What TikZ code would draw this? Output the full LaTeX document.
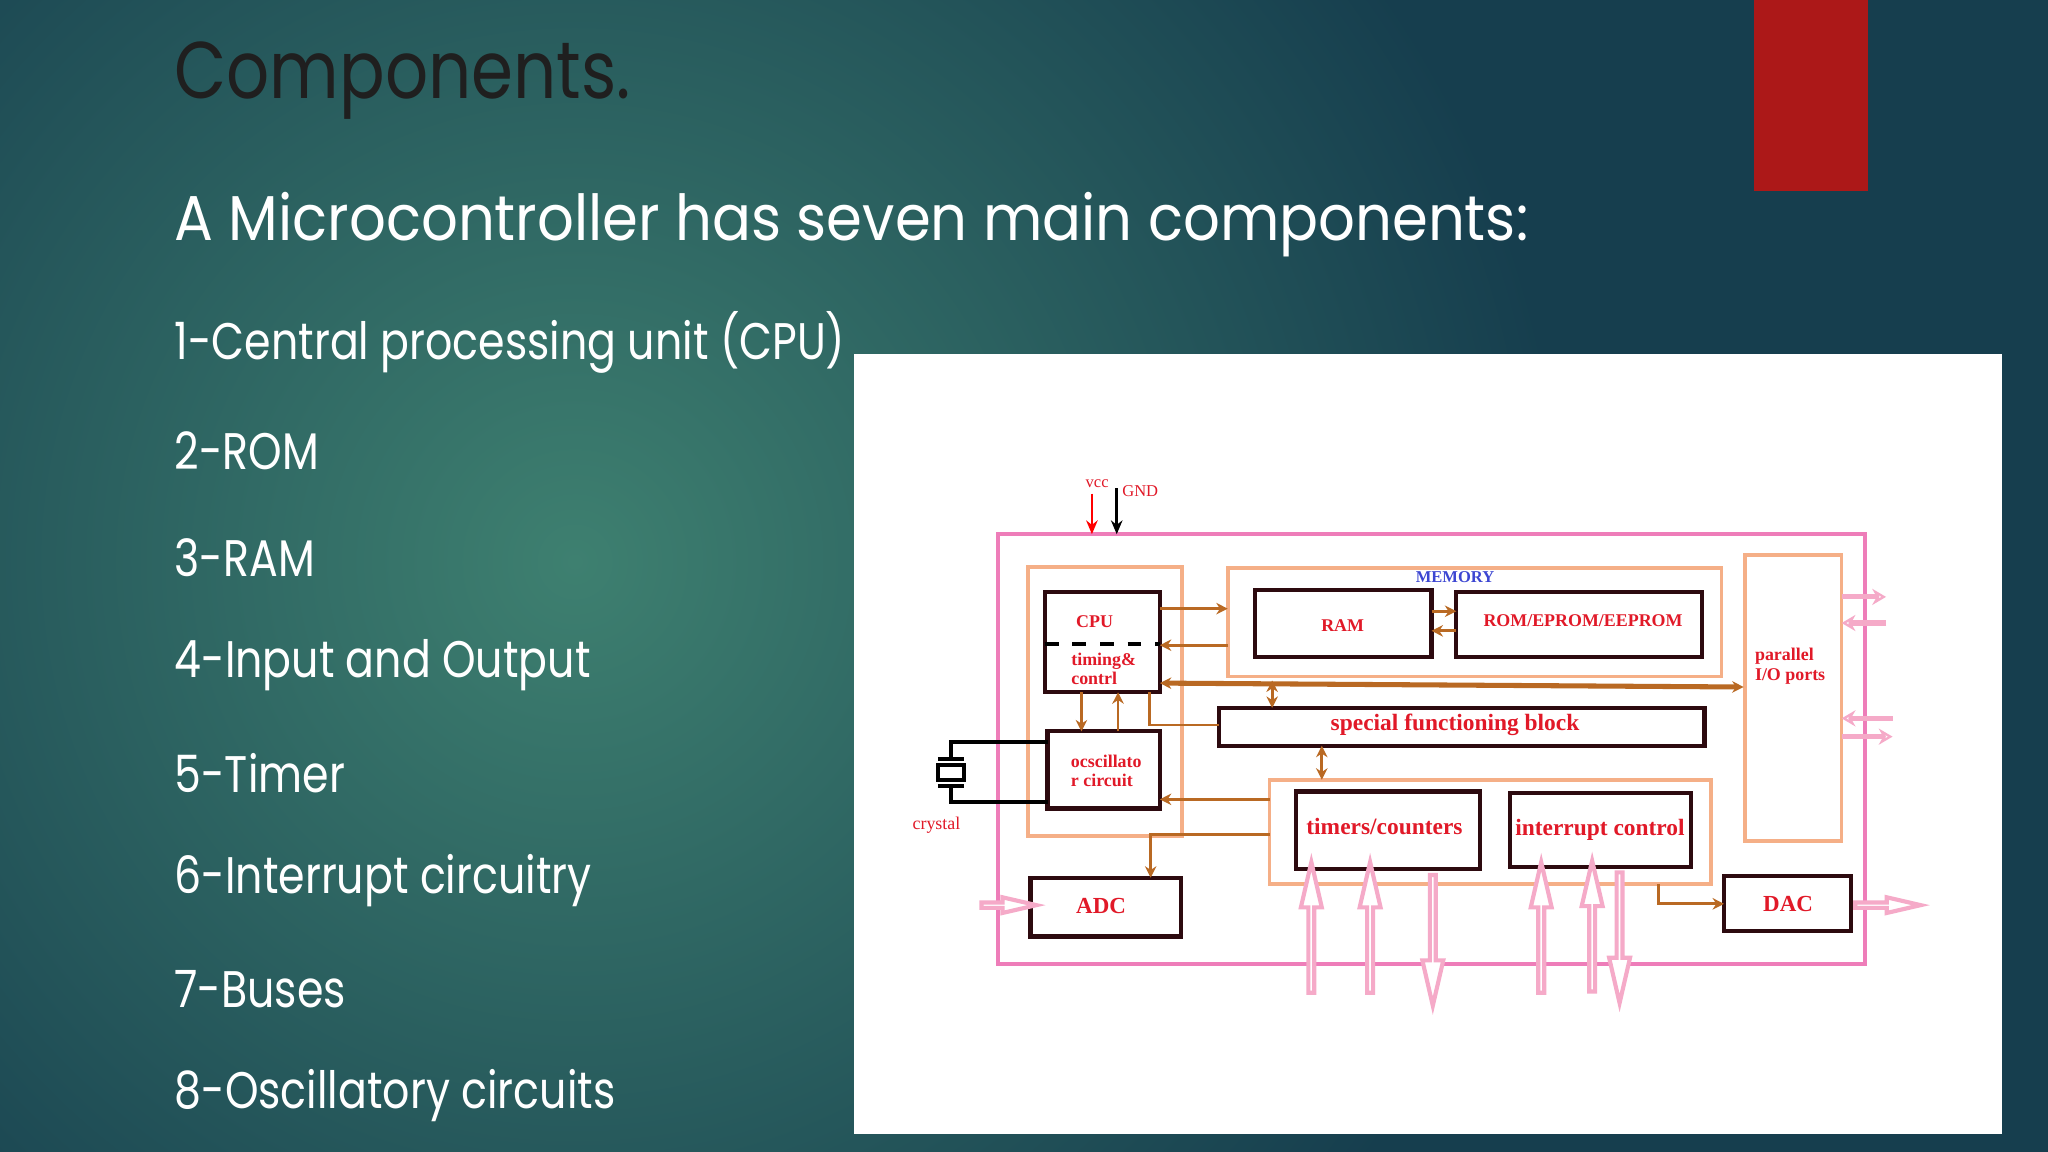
\documentclass[tikz,border=0pt]{standalone}
\usepackage{fontspec}
\setmainfont{Poppins}
\newfontfamily\titlef[FakeStretch=0.84]{Poppins}
\newfontfamily\subf[FakeStretch=0.91]{Poppins}
\newfontfamily\listf[FakeStretch=0.83]{Poppins}
\newfontfamily\dserif{Liberation Serif}
\usetikzlibrary{shapes.arrows,arrows.meta}
\definecolor{bgout}{RGB}{22,62,78}
\definecolor{bgin}{RGB}{62,128,112}
\definecolor{slidered}{RGB}{172,24,24}
\definecolor{dred}{RGB}{225,25,40}
\definecolor{brn}{RGB}{185,105,35}
\definecolor{org}{RGB}{245,175,135}
\definecolor{pnk}{RGB}{238,125,185}
\definecolor{hpnk}{RGB}{245,170,200}
\definecolor{dbox}{RGB}{45,10,15}
\definecolor{memblue}{RGB}{60,70,210}
\tikzset{
  listtxt/.style={anchor=west,text=white,font=\listf\fontsize{11.2}{12}\selectfont,inner sep=0},
  blk/.style={draw=dbox,line width=0.9pt,inner sep=0},
  grp/.style={draw=org,line width=0.8pt,inner sep=0},
  lbl/.style={text=dred,font=\dserif\bfseries\fontsize{3.9}{4.2}\selectfont,align=center,inner sep=0},
  barr/.style={draw=brn,line width=0.6pt,-{Stealth[length=2.5pt,width=2.5pt]}},
  bdarr/.style={draw=brn,line width=0.6pt,{Stealth[length=2.5pt,width=2.5pt]}-{Stealth[length=2.5pt,width=2.5pt]}},
  harrow/.style={single arrow,draw=hpnk,line width=0.9pt,fill=white,minimum width=0.16cm,single arrow head extend=0.04cm,single arrow tip angle=26,inner sep=0,minimum height=1cm},
  parr/.style={draw=hpnk,line width=1.1pt,-{Stealth[length=3pt,width=3.5pt,open]}}
}
\begin{document}
\begin{tikzpicture}[x=0.01cm,y=-0.01cm]
\useasboundingbox (0,0) rectangle (1568,882);
\fill[bgout] (0,0) rectangle (1568,882);
\begin{scope}
\clip (0,0) rectangle (1568,882);
\shade[inner color=bgin,outer color=bgout] (440,430) circle (760);
\end{scope}
\fill[slidered] (1343,0) rectangle (1430,146);
\node[anchor=west,inner sep=0,text=black!88,font=\titlef\fontsize{17.5}{18}\selectfont] (title) at (133,62) {Components.};
\node[anchor=west,inner sep=0,text=white,font=\subf\fontsize{13.8}{14}\selectfont] (sub) at (133,172) {A Microcontroller has seven main components:};
\node[listtxt] (l1) at (133,262) {1-Central processing unit (CPU)};
\node[listtxt] (l2) at (133,345) {2-ROM};
\node[listtxt] (l3) at (133,427) {3-RAM};
\node[listtxt] (l4) at (133,509) {4-Input and Output};
\node[listtxt] (l5) at (133,592) {5-Timer};
\node[listtxt] (l6) at (133,674) {6-Interrupt circuitry};
\node[listtxt] (l7) at (133,757) {7-Buses};
\node[listtxt] (l8) at (133,839) {8-Oscillatory circuits};
% white panel
\fill[white] (654,271) rectangle (1533,868);
% outer chip
\draw[pnk,line width=0.9pt] (764,409) rectangle (1428,738);
\coordinate (chiptopA) at (836,409);
\coordinate (chiptopB) at (855,409);
\coordinate (vccs) at (836,378);
\coordinate (gnds) at (855,374);
\node[text=dred,font=\dserif\fontsize{3.6}{4}\selectfont,inner sep=0] (vcc) at (840,370) {vcc};
\node[text=dred,font=\dserif\fontsize{3.6}{4}\selectfont,inner sep=0] (gnd) at (873,376) {GND};
\draw[red,line width=0.6pt,-{Stealth[length=3pt,width=2.5pt]}] (vccs) -- (chiptopA);
\draw[black,line width=0.6pt,-{Stealth[length=3pt,width=2.5pt]}] (gnds) -- (chiptopB);
% groups
\draw[grp] (787,434) rectangle (905,640);
\draw[grp] (940,435) rectangle (1318,518);
\draw[grp] (1336,425) rectangle (1410,644);
\draw[grp] (972,597) rectangle (1310,677);
\node[text=memblue,font=\dserif\bfseries\fontsize{3.6}{4}\selectfont,inner sep=0] (memlbl) at (1114,442) {MEMORY};
% blocks
\draw[blk] (800,453) rectangle (888,530);
\draw[black,line width=0.9pt,dashed] (800,493) -- (888,493);
\node[lbl] (cpu) at (838,476) {CPU};
\node[lbl,align=left] (tc) at (845,512) {timing\&\\contrl};
\draw[blk] (802,560) rectangle (888,619);
\node[lbl,align=left] (osc) at (847,590) {ocscillato\\r circuit};
\draw[blk] (961,452) rectangle (1096,503);
\node[lbl] (ram) at (1028,479) {RAM};
\draw[blk] (1115,453) rectangle (1303,503);
\node[lbl] (rom) at (1212,475) {ROM/EPROM/EEPROM};
\node[lbl,align=left,anchor=west] (pio) at (1343,510) {parallel\\I/O ports};
\draw[blk] (933,542) rectangle (1305,571);
\node[lbl,font=\dserif\bfseries\fontsize{5.1}{6}\selectfont] (sfb) at (1114,555) {special functioning block};
\draw[blk] (992,606) rectangle (1133,665);
\node[lbl,font=\dserif\bfseries\fontsize{5.1}{6}\selectfont] (tim) at (1060,633) {timers/counters};
\draw[blk] (1156,607) rectangle (1295,664);
\node[lbl,font=\dserif\bfseries\fontsize{5.1}{6}\selectfont] (intc) at (1225,635) {interrupt control};
\draw[blk] (789,672) rectangle (904,717);
\node[lbl,font=\dserif\bfseries\fontsize{5}{6}\selectfont] (adc) at (843,694) {ADC};
\draw[blk] (1320,671) rectangle (1417,713);
\node[lbl,font=\dserif\bfseries\fontsize{5}{6}\selectfont] (dac) at (1369,692) {DAC};
% crystal
\draw[black,line width=0.9pt] (802,568) -- (728,568) -- (728,581) (718,581) -- (738,581)
  (718,586) rectangle (738,597) (718,602) -- (738,602) (728,602) -- (728,614) -- (802,614);
\node[text=dred,font=\dserif\fontsize{3.9}{4}\selectfont,inner sep=0] (crys) at (717,632) {crystal};
% brown connectors
\draw[barr] (888,466) -- (940,466);
\draw[barr] (940,494) -- (888,494);
\draw[bdarr,line width=1.1pt] (888,523) -- (1335,526);
\draw[bdarr] (974,521) -- (974,542);
\draw[bdarr] (1012,571) -- (1012,597);
\draw[barr] (828,530) -- (828,560);
\draw[barr] (856,560) -- (856,530);
\draw[brn,line width=0.6pt] (880,530) -- (880,555) -- (933,555);
\draw[barr] (972,612) -- (888,612);
\draw[barr] (972,639) -- (881,639) -- (881,672);
\draw[barr] (1270,677) -- (1270,692) -- (1320,692);
\draw[barr] (1096,468) -- (1115,468);
\draw[barr] (1115,483) -- (1096,483);
% pink port arrows
\draw[parr] (1410,457) -- (1444,457);
\draw[parr] (1444,477) -- (1410,477);
\draw[parr] (1449,550) -- (1410,550);
\draw[parr] (1410,564) -- (1449,564);
% hollow arrows
\node[harrow,shape border rotate=90] (u1) at (1004,715) {};
\node[harrow,shape border rotate=90] (u2) at (1049,715) {};
\node[harrow,shape border rotate=270] (d1) at (1097,715) {};
\node[harrow,shape border rotate=90] (u3) at (1180,715) {};
\node[harrow,shape border rotate=90] (u4) at (1219,714) {};
\node[harrow,shape border rotate=270] (d2) at (1240,713) {};
\node[harrow,minimum height=0.42cm,minimum width=0.12cm,single arrow head extend=0.03cm] (ain) at (768,693) {};
\node[harrow,minimum height=0.5cm,minimum width=0.12cm,single arrow head extend=0.03cm] (aout) at (1441,693) {};
\end{tikzpicture}
\end{document}
